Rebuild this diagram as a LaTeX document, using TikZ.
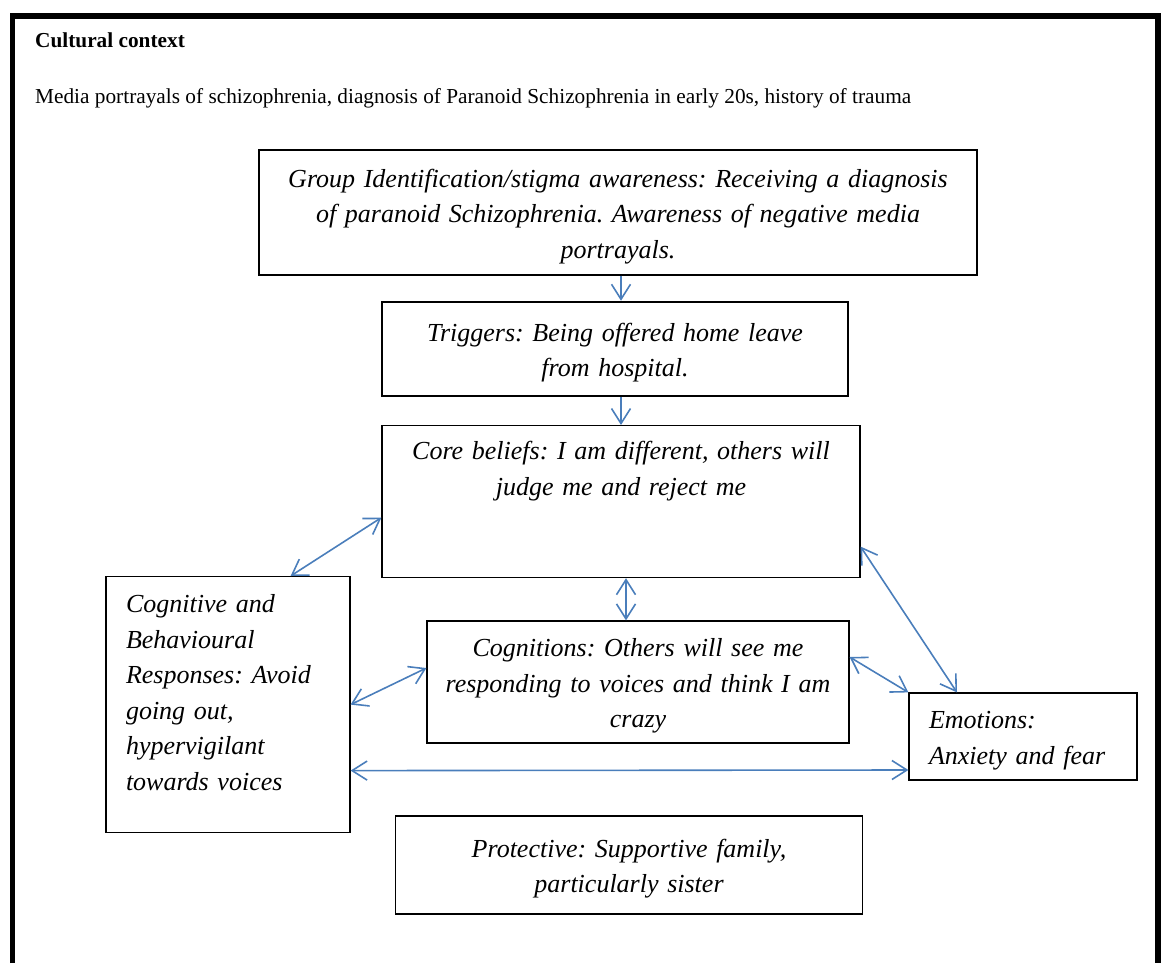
\documentclass[tikz,border=0pt]{standalone}
\usepackage{xcolor}
\usepackage{fontspec}
\setmainfont{Liberation Serif}
\frenchspacing
\usetikzlibrary{arrows.meta}
\definecolor{linkblue}{RGB}{74,126,187}

\begin{document}
\begin{tikzpicture}[x=1pt,y=-1pt,>={Straight Barb[length=15pt,width=19pt]},
  box/.style={draw,line width=1.2pt,inner xsep=10pt,align=center,text height=26pt,
    font=\fontsize{26}{35.5}\selectfont\itshape},
  arr/.style={draw=linkblue,line width=1.6pt}]
\useasboundingbox (0,0) rectangle (1166,963);
% frame, open at the bottom
\draw[line width=5.5pt] (12.5,963) -- (12.5,16) -- (1158,16) -- (1158,963);
\node[anchor=base west,inner sep=0pt,font=\fontsize{21.3}{25}\selectfont\bfseries] (title) at (35,48) {Cultural context};
\node[anchor=base west,inner sep=0pt,font=\fontsize{21.3}{25}\selectfont] (ctx) at (35,103) {Media portrayals of schizophrenia, diagnosis of Paranoid Schizophrenia in early 20s, history of trauma};

\node[box,text width=698pt,minimum height=125pt] (grp) at (618,212.5) {Group Identification/stigma awareness: Receiving a diagnosis\\ of paranoid Schizophrenia. Awareness of negative media\\ portrayals.};
\node[box,line width=2.5pt,text width=446pt,minimum height=94pt] (trg) at (615,349) {Triggers: Being offered home leave\\ from hospital.};
\node[box,anchor=north,text width=458pt,text height=18pt,text depth=102pt,inner ysep=16pt] (core) at (621,425) {Core beliefs: I am different, others will\\ judge me and reject me};
\node[box,text width=402pt,minimum height=122pt] (cogn) at (638,682) {Cognitions: Others will see me\\ responding to voices and think I am\\ crazy};
\node[box,anchor=north,align=left,inner xsep=20pt,text width=204pt,text height=18pt,text depth=202pt,inner ysep=18pt] (cbr) at (228,576) {Cognitive and\\ Behavioural\\ Responses: Avoid\\ going out,\\ hypervigilant\\ towards voices};
\node[box,align=left,inner xsep=20pt,text width=188pt,minimum height=87pt] (emo) at (1023,736.5) {Emotions:\\ Anxiety and fear};
\node[box,text width=447pt,minimum height=98pt] (prot) at (629,865) {Protective: Supportive family,\\ particularly sister};

% connectors
\draw[arr,->] (grp.south -| core.north) -- (trg.north -| core.north);
\draw[arr,->] (trg.south -| core.north) -- (core.north);
\draw[arr,<->] ([yshift=-16pt]core.west) -- ([xshift=-60pt]cbr.north east);
\draw[arr,<->] ([xshift=5pt]core.south) -- ([xshift=-12pt]cogn.north);
\draw[arr,<->] ([yshift=14pt]cogn.west) -- (cbr.east);
\draw[arr,<->] ([yshift=25pt]cogn.east) -- (emo.north west);
\draw[arr,<->] ([yshift=-45pt]core.east) -- ([xshift=-66pt]emo.north);
\draw[arr,<->] ([yshift=-66pt]cbr.east) -- ([yshift=-33.5pt]emo.west);
\end{tikzpicture}
\end{document}
